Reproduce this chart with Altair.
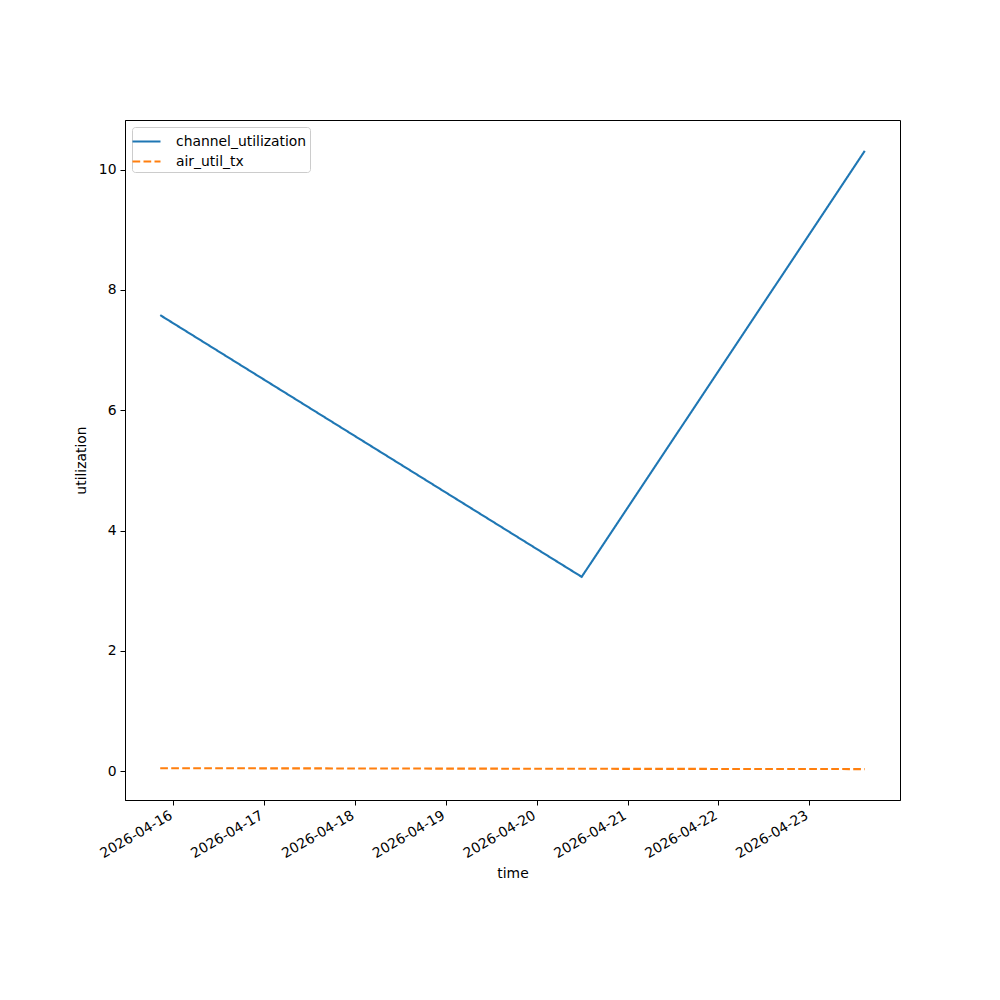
import altair as alt
import pandas as pd
from datetime import datetime, timedelta

# Data
times = ["2026-04-15T20:30:00", "2026-04-20T11:53:00", "2026-04-23T14:42:00"]
channel_utilization = [7.58, 3.23, 10.31]
air_util_tx = [0.05, 0.04, 0.035]
series_names = ["channel_utilization", "air_util_tx"]
tick_days = ["2026-04-16", "2026-04-17", "2026-04-18", "2026-04-19",
             "2026-04-20", "2026-04-21", "2026-04-22", "2026-04-23"]

rows = []
for t, c, a in zip(times, channel_utilization, air_util_tx):
    rows.append({"time": t + "Z", "utilization": c, "series": series_names[0]})
    rows.append({"time": t + "Z", "utilization": a, "series": series_names[1]})
df = pd.DataFrame(rows)

# matplotlib-like 5% margins
tdt = [datetime.fromisoformat(t) for t in times]
span = tdt[-1] - tdt[0]
xmin = tdt[0] - span * 0.05
xmax = tdt[-1] + span * 0.05
allv = channel_utilization + air_util_tx
yr = max(allv) - min(allv)
ymin = min(allv) - 0.05 * yr
ymax = max(allv) + 0.05 * yr

def dt(d):
    return alt.DateTime(year=d.year, month=d.month, date=d.day, hours=d.hour,
                        minutes=d.minute, seconds=d.second, utc=True)

tick_vals = []
for s in tick_days:
    y, m, d = [int(v) for v in s.split("-")]
    tick_vals.append(alt.DateTime(year=y, month=m, date=d, utc=True))

font = "DejaVu Sans"

chart = alt.Chart(df).mark_line(strokeWidth=2.1, clip=True).encode(
    x=alt.X("time:T",
            scale=alt.Scale(type="utc", domain=[dt(xmin), dt(xmax)], nice=False),
            axis=alt.Axis(title="time", values=tick_vals, format="%Y-%m-%d",
                          labelAngle=-30, labelAlign="right", labelBaseline="top",
                          labelOffset=-6,
                          grid=False, tickSize=5, labelPadding=3, titlePadding=6)),
    y=alt.Y("utilization:Q",
            scale=alt.Scale(domain=[ymin, ymax], nice=False, zero=False),
            axis=alt.Axis(title="utilization", values=[0, 2, 4, 6, 8, 10],
                          grid=False, tickSize=5, labelPadding=4, titlePadding=10)),
    color=alt.Color("series:N",
                    scale=alt.Scale(domain=series_names, range=["#1f77b4", "#ff7f0e"]),
                    legend=alt.Legend(title=None, orient="top-left")),
    strokeDash=alt.StrokeDash("series:N",
                              scale=alt.Scale(domain=series_names, range=[[1, 0], [7.7, 3.3]]),
                              legend=alt.Legend(title=None, orient="top-left")),
).properties(
    width=775, height=680,
    autosize=alt.AutoSizeParams(type="none"),
    padding={"left": 117, "top": 112, "right": 92, "bottom": 190},
).configure_view(
    stroke="black", strokeWidth=1
).configure_axis(
    domainColor="black", tickColor="black", labelColor="black", titleColor="black",
    labelFont=font, titleFont=font, labelFontSize=13.9, titleFontSize=13.9,
    titleFontWeight="normal", domainWidth=1, tickWidth=1
).configure_legend(
    labelFont=font, labelFontSize=13.9, labelColor="black",
    symbolType="M-1.4,0H1.4", symbolSize=400, symbolStrokeWidth=2.1,
    fillColor="white", strokeColor="#cccccc", cornerRadius=3,
    padding=3, offset=7, rowPadding=1, labelOffset=18
)

chart.save("out.html", embed_options={"renderer": "svg", "actions": False})
